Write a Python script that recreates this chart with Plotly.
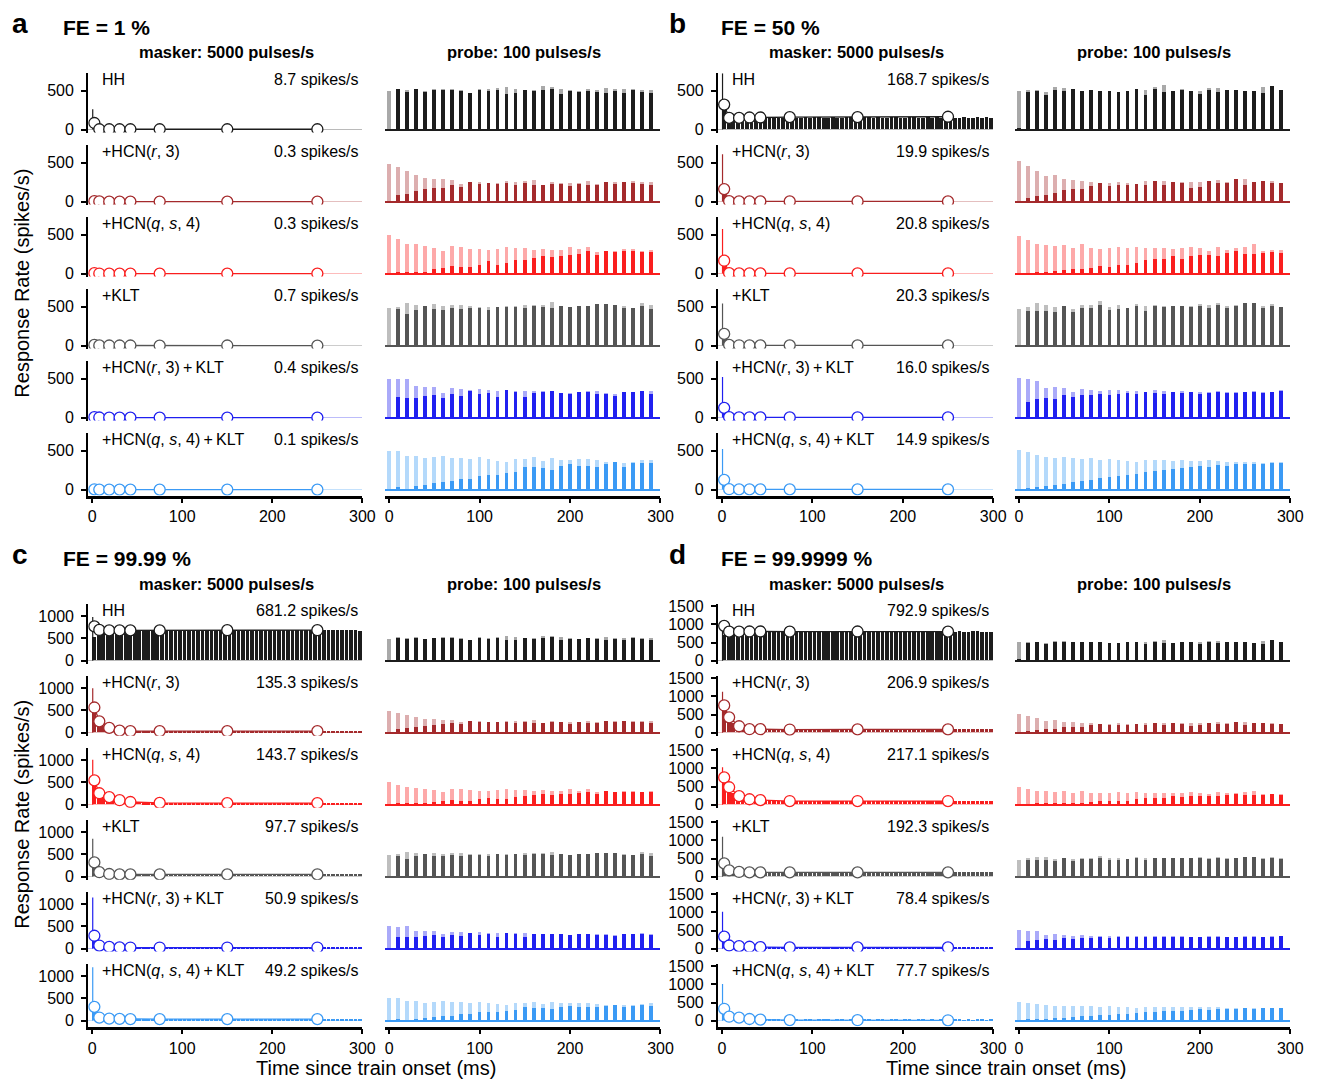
import plotly.graph_objects as go

# ---------------- data ----------------
model_labels = ["HH", "+HCN(<i>r</i>, 3)", "+HCN(<i>q</i>, <i>s</i>, 4)", "+KLT",
                "+HCN(<i>r</i>, 3)\u2009+\u2009KLT", "+HCN(<i>q</i>, <i>s</i>, 4)\u2009+\u2009KLT"]
model_colors = ["#1c1c1c", "#a42a2c", "#fa1e1e", "#555555", "#2020f0", "#3b9af5"]
fe_titles = {"a": "FE = 1 %", "b": "FE = 50 %", "c": "FE = 99.99 %", "d": "FE = 99.9999 %"}

masker_title = "masker: 5000 pulses/s"
probe_title = "probe: 100 pulses/s"
x_ticks = [0, 100, 200, 300]

circle_t = [2.5, 8, 19, 30.5, 42.5, 75, 150, 250]
probe_t = [0, 10, 20, 30, 40, 50, 60, 70, 80, 90, 100, 110, 120, 130, 140,
           150, 160, 170, 180, 190, 200, 210, 220, 230, 240, 250, 260, 270, 280, 290]
masker_bin_ms = 5
onset_t = 0.7

# mean rates (spikes/s)
rates_a = [8.7, 0.3, 0.3, 0.7, 0.4, 0.1]
rates_b = [168.7, 19.9, 20.8, 20.3, 16.0, 14.9]
rates_c = [681.2, 135.3, 143.7, 97.7, 50.9, 49.2]
rates_d = [792.9, 206.9, 217.1, 192.3, 78.4, 77.7]

# onset peak of masker PSTH
onset_a = [262, 0, 0, 0, 0, 0]
onset_b = [720, 605, 570, 540, 520, 520]
onset_c = [980, 1000, 1010, 850, 1150, 1200]
onset_d = [960, 1130, 1030, 1100, 1020, 1010]

# circles (windowed masker rate)
circ_a = [[85, 5, 5, 5, 5, 5, 5, 5], [5, 2, 0, 0, 0, 0, 0, 0], [5, 1, 0, 0, 0, 0, 0, 0],
          [8, 2, 1, 1, 1, 0, 1, 0], [5, 1, 0, 0, 0, 0, 0, 0], [3, 0, 0, 0, 0, 0, 0, 0]]
circ_b = [[320, 150, 150, 155, 155, 160, 160, 165], [160, 5, 3, 2, 2, 2, 2, 2],
          [165, 6, 3, 2, 2, 2, 2, 2], [150, 8, 4, 3, 3, 3, 3, 3],
          [125, 6, 3, 2, 2, 2, 2, 2], [125, 5, 3, 2, 2, 2, 2, 2]]
circ_c = [[770, 690, 680, 680, 680, 680, 685, 685], [566, 255, 107, 47, 35, 35, 35, 35],
          [546, 257, 170, 100, 60, 40, 35, 35], [320, 100, 60, 50, 50, 50, 50, 50],
          [290, 70, 40, 30, 25, 25, 25, 25], [310, 70, 45, 40, 35, 35, 35, 35]]
circ_d = [[960, 800, 800, 805, 805, 800, 805, 800], [750, 423, 177, 95, 95, 86, 90, 90],
          [750, 480, 235, 150, 125, 100, 100, 100], [365, 175, 130, 120, 120, 120, 120, 120],
          [333, 87, 68, 52, 41, 33, 33, 33], [327, 109, 82, 46, 27, 15, 12, 10]]

# masker PSTH, 5-ms bins from train onset
psth_a_hh = [80, 4, 2]
psth_a_hcnr = [4, 1]
psth_a_hcnq = [4, 1]
psth_a_klt = [7, 2, 1]
psth_a_hcnrk = [4, 1]
psth_a_hcnqk = [3]
psth_b_hh = [300, 160, 150, 155, 145, 150, 160, 150, 145, 155, 150, 160, 150, 145, 155,
             160, 150, 148, 155, 150, 160, 152, 145, 150, 158, 150, 147, 155, 160, 150,
             145, 152, 158, 150, 155, 148, 150, 160, 152, 145, 150, 155, 158, 150, 147,
             152, 150, 160, 150, 145, 155, 150, 148, 155, 150, 145, 152, 150, 155, 148]
psth_b_hcnr = [150, 5, 2]
psth_b_hcnq = [160, 6, 2]
psth_b_klt = [140, 10, 4]
psth_b_hcnrk = [120, 6, 2]
psth_b_hcnqk = [120, 5, 2]
psth_c_hh = [520, 705, 690, 680, 672, 688, 679, 684, 670, 690, 681, 676, 686, 679, 672,
             688, 683, 675, 690, 678, 684, 671, 687, 680, 676, 689, 682, 674, 685, 679,
             690, 673, 684, 680, 676, 688, 681, 672, 687, 679, 684, 675, 690, 680, 673,
             686, 682, 677, 689, 674, 683, 679, 686, 672, 688, 680, 675, 684, 678, 670]
psth_c_hcnr = [560, 290, 150, 100, 70, 55, 45, 42, 38, 36, 40, 35, 38, 34, 37,
               40, 36, 33, 38, 35, 39, 36, 34, 37, 40, 35, 33, 38, 36, 39,
               35, 37, 34, 38, 36, 40, 35, 33, 37, 39, 36, 34, 38, 35, 37,
               40, 34, 36, 38, 35, 33, 37, 39, 36, 34, 38, 35, 37, 36, 34]
psth_c_hcnq = [540, 300, 210, 150, 110, 85, 70, 60, 52, 48, 45, 42, 40, 38, 40,
               37, 36, 39, 35, 38, 36, 34, 37, 39, 35, 36, 38, 34, 37, 35,
               39, 36, 34, 38, 35, 37, 36, 39, 34, 36, 38, 35, 37, 34, 36,
               39, 35, 37, 36, 34, 38, 35, 37, 36, 39, 34, 36, 38, 35, 37]
psth_c_klt = [330, 110, 70, 60, 55, 52, 50, 54, 48, 52, 50, 47, 53, 50, 49,
              52, 48, 51, 54, 49, 50, 47, 52, 50, 53, 48, 51, 49, 52, 50,
              47, 53, 50, 48, 52, 49, 51, 54, 48, 50, 52, 49, 47, 53, 50,
              51, 48, 52, 49, 50, 53, 47, 51, 50, 49, 52, 48, 50, 51, 49]
psth_c_hcnrk = [290, 75, 45, 32, 28, 26, 25, 27, 24, 26, 25, 23, 27, 25, 24,
                26, 25, 27, 23, 25, 26, 24, 27, 25, 23, 26, 25, 24, 27, 25,
                26, 24, 23, 27, 25, 26, 24, 25, 27, 23, 26, 25, 24, 26, 27,
                25, 23, 26, 24, 25, 27, 26, 24, 25, 23, 26, 25, 27, 24, 25]
psth_c_hcnqk = [310, 75, 50, 42, 38, 36, 35, 37, 34, 36, 35, 33, 37, 35, 34,
                36, 35, 37, 33, 35, 36, 34, 37, 35, 33, 36, 35, 34, 37, 35,
                36, 34, 33, 37, 35, 36, 34, 35, 37, 33, 36, 35, 34, 36, 37,
                35, 33, 36, 34, 35, 37, 36, 34, 35, 33, 36, 35, 37, 34, 35]
psth_d_hh = [700, 830, 800, 795, 790, 805, 798, 788, 802, 795, 790, 806, 797, 786, 800,
             794, 808, 792, 787, 801, 796, 790, 804, 798, 785, 800, 793, 807, 791, 788,
             802, 797, 790, 805, 795, 786, 800, 794, 808, 790, 787, 801, 796, 791, 804,
             798, 785, 800, 793, 806, 790, 788, 802, 795, 790, 805, 797, 786, 783, 780]
psth_d_hcnr = [720, 430, 250, 160, 120, 100, 95, 90, 88, 92, 86, 90, 94, 87, 89,
               91, 85, 90, 93, 88, 86, 91, 89, 94, 87, 90, 85, 92, 88, 90,
               93, 86, 89, 91, 87, 90, 94, 88, 85, 92, 89, 90, 87, 93, 86,
               91, 88, 90, 94, 87, 89, 85, 92, 90, 88, 91, 86, 93, 89, 87]
psth_d_hcnq = [730, 480, 300, 220, 170, 140, 125, 115, 108, 104, 100, 103, 98, 101, 99,
               104, 97, 102, 100, 98, 103, 99, 101, 97, 104, 100, 98, 102, 99, 101,
               97, 103, 100, 98, 102, 99, 104, 97, 101, 100, 98, 103, 99, 101, 97,
               102, 100, 98, 104, 99, 101, 97, 103, 100, 98, 102, 99, 101, 100, 98]
psth_d_klt = [370, 180, 140, 128, 122, 120, 116, 124, 119, 121, 115, 125, 120, 117, 123,
              118, 122, 114, 126, 120, 117, 123, 119, 121, 116, 124, 120, 118, 122, 115,
              121, 126, 119, 117, 123, 120, 114, 122, 118, 125, 121, 116, 120, 124, 117,
              119, 123, 115, 121, 120, 126, 118, 117, 122, 119, 124, 116, 121, 120, 118]
psth_d_hcnrk = [330, 90, 70, 55, 45, 38, 35, 34, 33, 35, 32, 34, 33, 31, 35,
                33, 34, 32, 36, 33, 31, 34, 33, 35, 32, 34, 31, 33, 35, 34,
                32, 33, 36, 31, 34, 33, 35, 32, 34, 33, 31, 35, 33, 34, 32,
                36, 33, 31, 34, 33, 35, 32, 34, 33, 31, 35, 33, 34, 32, 33]
psth_d_hcnqk = [325, 110, 85, 50, 30, 20, 16, 14, 13, 12, 13, 11, 12, 10, 12,
                11, 13, 10, 12, 11, 10, 12, 11, 13, 10, 11, 12, 10, 11, 12,
                10, 11, 13, 10, 12, 11, 10, 12, 11, 10, 12, 11, 10, 11, 12,
                10, 11, 10, 12, 11, 10, 11, 12, 10, 11, 10, 12, 11, 10, 11]

# probe responses (spikes/s): light = reference, dark = after masker
probe_a_hh_light = [489, 523, 502, 523, 485, 511, 519, 523, 498, 468, 519, 511, 532, 544, 519, 506, 506, 553, 540, 519, 502, 485, 511, 498, 527, 511, 511, 519, 498, 506]
probe_a_hh_dark = [0, 511, 477, 511, 477, 498, 498, 498, 485, 468, 502, 485, 506, 447, 468, 498, 489, 498, 519, 447, 489, 477, 494, 477, 464, 489, 464, 498, 477, 468]
probe_a_hcnr_light = [477, 435, 392, 342, 300, 291, 287, 278, 224, 249, 249, 236, 232, 266, 253, 266, 274, 215, 249, 232, 236, 236, 266, 224, 253, 249, 241, 257, 245, 249]
probe_a_hcnr_dark = [0, 76, 89, 131, 152, 165, 177, 211, 181, 249, 228, 236, 228, 236, 207, 232, 215, 215, 224, 224, 194, 224, 207, 215, 249, 224, 249, 241, 228, 215]
probe_a_hcnq_light = [494, 439, 380, 376, 354, 325, 283, 346, 342, 316, 308, 295, 312, 338, 325, 325, 300, 316, 300, 304, 338, 308, 338, 274, 291, 283, 308, 308, 283, 304]
probe_a_hcnq_dark = [0, 21, 21, 21, 21, 51, 72, 89, 80, 80, 110, 152, 110, 127, 169, 177, 203, 224, 215, 224, 236, 253, 283, 241, 291, 270, 283, 283, 274, 278]
probe_a_klt_light = [481, 494, 544, 515, 502, 527, 506, 515, 519, 498, 494, 494, 494, 498, 502, 515, 515, 519, 557, 502, 489, 502, 506, 532, 527, 515, 498, 481, 548, 519]
probe_a_klt_dark = [0, 468, 401, 447, 498, 468, 451, 481, 460, 481, 477, 451, 494, 489, 494, 481, 498, 494, 481, 502, 489, 498, 502, 532, 527, 515, 481, 477, 498, 464]
probe_a_hcnrk_light = [494, 485, 494, 397, 388, 384, 316, 376, 367, 354, 367, 346, 338, 342, 342, 342, 333, 333, 333, 316, 308, 316, 333, 333, 312, 304, 325, 325, 338, 333]
probe_a_hcnrk_dark = [0, 257, 249, 249, 270, 291, 249, 300, 274, 342, 300, 316, 266, 346, 325, 266, 312, 325, 333, 312, 300, 321, 325, 304, 304, 278, 325, 325, 333, 304]
probe_a_hcnqk_light = [494, 494, 430, 430, 397, 418, 426, 405, 405, 388, 409, 384, 363, 354, 384, 388, 414, 363, 405, 380, 380, 388, 388, 371, 354, 354, 338, 354, 371, 380]
probe_a_hcnqk_dark = [0, 25, 0, 38, 55, 76, 89, 101, 139, 139, 177, 181, 190, 207, 224, 291, 283, 278, 245, 304, 321, 304, 300, 291, 329, 354, 291, 333, 342, 333]

probe_b_hh_light = [494, 506, 506, 473, 544, 527, 515, 494, 506, 494, 489, 481, 494, 515, 502, 544, 565, 485, 515, 494, 494, 527, 527, 498, 502, 494, 485, 544, 549, 506]
probe_b_hh_dark = [21, 473, 494, 443, 502, 494, 515, 494, 506, 494, 489, 481, 494, 515, 443, 515, 473, 485, 506, 494, 451, 502, 473, 498, 502, 494, 485, 460, 549, 506]
probe_b_hcnr_light = [511, 447, 384, 321, 342, 291, 278, 266, 249, 241, 241, 249, 236, 215, 257, 215, 266, 249, 249, 249, 249, 257, 274, 249, 249, 287, 215, 249, 262, 241]
probe_b_hcnr_dark = [0, 38, 63, 80, 105, 148, 152, 156, 198, 232, 203, 215, 207, 224, 207, 266, 215, 249, 241, 173, 190, 266, 232, 241, 283, 207, 249, 257, 232, 241]
probe_b_hcnq_light = [477, 430, 376, 359, 354, 359, 325, 376, 325, 312, 325, 338, 321, 342, 321, 321, 321, 316, 325, 338, 325, 291, 333, 300, 325, 338, 376, 283, 295, 295]
probe_b_hcnq_dark = [0, 0, 21, 21, 34, 38, 51, 51, 68, 97, 84, 101, 105, 139, 169, 181, 181, 219, 190, 219, 241, 241, 228, 266, 283, 253, 245, 257, 278, 257]
probe_b_klt_light = [460, 494, 544, 523, 489, 502, 468, 511, 519, 565, 494, 515, 473, 527, 498, 515, 502, 502, 498, 498, 527, 515, 540, 498, 519, 540, 544, 498, 527, 494]
probe_b_klt_dark = [0, 439, 443, 443, 422, 502, 422, 481, 477, 511, 456, 464, 473, 498, 443, 498, 494, 502, 502, 494, 498, 481, 511, 481, 498, 540, 544, 481, 498, 489]
probe_b_hcnrk_light = [500, 490, 470, 380, 390, 370, 330, 360, 350, 340, 350, 345, 335, 340, 330, 345, 335, 330, 340, 325, 320, 330, 335, 325, 320, 330, 335, 325, 330, 345]
probe_b_hcnrk_dark = [0, 200, 230, 250, 240, 280, 260, 290, 280, 300, 290, 300, 310, 300, 320, 310, 300, 320, 310, 320, 300, 310, 320, 315, 310, 320, 325, 315, 320, 340]
probe_b_hcnqk_light = [500, 480, 440, 420, 400, 410, 400, 390, 400, 380, 385, 370, 360, 350, 370, 380, 375, 360, 370, 365, 360, 370, 365, 355, 350, 345, 350, 340, 345, 350]
probe_b_hcnqk_dark = [0, 20, 30, 40, 60, 70, 90, 110, 120, 140, 160, 170, 180, 200, 220, 240, 250, 260, 270, 290, 300, 290, 310, 300, 320, 330, 320, 330, 335, 340]

# ---------------- assemble ----------------
panels = {
    "a": dict(rates=rates_a, onset=onset_a, circ=circ_a,
              psth=[psth_a_hh, psth_a_hcnr, psth_a_hcnq, psth_a_klt, psth_a_hcnrk, psth_a_hcnqk],
              light=[probe_a_hh_light, probe_a_hcnr_light, probe_a_hcnq_light, probe_a_klt_light, probe_a_hcnrk_light, probe_a_hcnqk_light],
              dark=[probe_a_hh_dark, probe_a_hcnr_dark, probe_a_hcnq_dark, probe_a_klt_dark, probe_a_hcnrk_dark, probe_a_hcnqk_dark]),
    "b": dict(rates=rates_b, onset=onset_b, circ=circ_b,
              psth=[psth_b_hh, psth_b_hcnr, psth_b_hcnq, psth_b_klt, psth_b_hcnrk, psth_b_hcnqk],
              light=[probe_b_hh_light, probe_b_hcnr_light, probe_b_hcnq_light, probe_b_klt_light, probe_b_hcnrk_light, probe_b_hcnqk_light],
              dark=[probe_b_hh_dark, probe_b_hcnr_dark, probe_b_hcnq_dark, probe_b_klt_dark, probe_b_hcnrk_dark, probe_b_hcnqk_dark]),
    "c": dict(rates=rates_c, onset=onset_c, circ=circ_c,
              psth=[psth_c_hh, psth_c_hcnr, psth_c_hcnq, psth_c_klt, psth_c_hcnrk, psth_c_hcnqk],
              light=[probe_a_hh_light, probe_a_hcnr_light, probe_a_hcnq_light, probe_a_klt_light, probe_a_hcnrk_light, probe_a_hcnqk_light],
              dark=[probe_a_hh_dark, probe_a_hcnr_dark, probe_a_hcnq_dark, probe_a_klt_dark, probe_a_hcnrk_dark, probe_a_hcnqk_dark]),
    "d": dict(rates=rates_d, onset=onset_d, circ=circ_d,
              psth=[psth_d_hh, psth_d_hcnr, psth_d_hcnq, psth_d_klt, psth_d_hcnrk, psth_d_hcnqk],
              light=[probe_b_hh_light, probe_b_hcnr_light, probe_b_hcnq_light, probe_b_klt_light, probe_b_hcnrk_light, probe_b_hcnqk_light],
              dark=[probe_b_hh_dark, probe_b_hcnr_dark, probe_b_hcnq_dark, probe_b_klt_dark, probe_b_hcnrk_dark, probe_b_hcnqk_dark]),
}

# geometry (pixels)
W, H = 1331, 1085
geom = {
    "a": dict(mx=(89, 366), px=(389, 667), zero0=125, scale=0.079, yticks=[0, 500]),
    "b": dict(mx=(725, 1003), px=(1025, 1303), zero0=125, scale=0.079, yticks=[0, 500]),
    "c": dict(mx=(89, 366), px=(389, 667), zero0=662, scale=0.045, yticks=[0, 500, 1000]),
    "d": dict(mx=(725, 1003), px=(1025, 1303), zero0=662, scale=0.03667, yticks=[0, 500, 1000, 1500]),
}
ROW_STEP = 72.8
TOP_PX = 57
XRANGE = [-4.4, 300]
FONT = "Liberation Sans, Arial, Helvetica, sans-serif"


def fx(p):
    return p / W


def fy(p):
    return 1 - p / H


def rgba(hexc, a):
    h = hexc.lstrip("#")
    return "rgba(%d,%d,%d,%.2f)" % (int(h[0:2], 16), int(h[2:4], 16), int(h[4:6], 16), a)


fig = go.Figure()
layout = dict(width=W, height=H, margin=dict(l=0, r=0, t=0, b=0), autosize=False,
              paper_bgcolor="white", plot_bgcolor="white", showlegend=False,
              barmode="overlay", bargap=0, font=dict(family=FONT, color="black", size=16))
annotations = []
k = 0
for g in ["a", "b", "c", "d"]:
    G = geom[g]
    P = panels[g]
    for r in range(6):
        col = model_colors[r]
        zero = G["zero0"] + r * ROW_STEP
        below = 6 if r == 5 else 3
        ymin = -below / G["scale"]
        ymax = TOP_PX / G["scale"]
        ydom = [fy(zero + below), fy(zero - TOP_PX)]
        bottom = (r == 5)
        for side in ["masker", "probe"]:
            k += 1
            xa = "x%d" % k
            ya = "y%d" % k
            xr = G["mx"] if side == "masker" else G["px"]
            xax = dict(domain=[fx(xr[0]), fx(xr[1])], range=XRANGE, anchor=ya,
                       showgrid=False, zeroline=False, fixedrange=True)
            if bottom:
                xax.update(showline=True, linecolor="black", linewidth=2.5, ticks="outside",
                           tickvals=x_ticks, ticklen=5, tickwidth=2, tickcolor="black",
                           tickfont=dict(size=16, family=FONT))
            else:
                xax.update(showline=False, showticklabels=False, ticks="")
            yax = dict(domain=ydom, range=[ymin, ymax], anchor=xa, showgrid=False, fixedrange=True,
                       zeroline=True)
            if side == "masker":
                yax.update(showline=True, linecolor="black", linewidth=2, ticks="outside",
                           tickvals=G["yticks"], ticklen=5, tickwidth=2, tickcolor="black",
                           tickfont=dict(size=16, family=FONT), ticklabelstandoff=4,
                           zerolinecolor=rgba(col, 0.3), zerolinewidth=1)
            else:
                yax.update(showline=False, showticklabels=False, ticks="",
                           zerolinecolor=col, zerolinewidth=1.5)
            layout["xaxis%d" % k] = xax
            layout["yaxis%d" % k] = yax

            if side == "masker":
                ps = P["psth"][r]
                centers = [masker_bin_ms * i + masker_bin_ms / 2 for i in range(len(ps))]
                fig.add_trace(go.Bar(x=centers, y=ps, width=0.8 * masker_bin_ms,
                                     marker=dict(color=col, line=dict(width=0)),
                                     xaxis=xa, yaxis=ya, hoverinfo="skip"))
                ov = P["onset"][r]
                fig.add_trace(go.Scatter(x=[onset_t, onset_t], y=[0, ov], mode="lines",
                                         line=dict(color=col, width=1.2),
                                         xaxis=xa, yaxis=ya, hoverinfo="skip"))
                fig.add_trace(go.Scatter(x=circle_t, y=P["circ"][r], mode="lines+markers",
                                         line=dict(color=col, width=1.3),
                                         marker=dict(size=11, color="white",
                                                     line=dict(color=col, width=1.3)),
                                         xaxis=xa, yaxis=ya, hoverinfo="skip"))
                annotations.append(dict(text=model_labels[r], x=fx(xr[0] + 12), y=fy(zero - 51),
                                        xref="paper", yref="paper", xanchor="left", yanchor="middle",
                                        showarrow=False, font=dict(size=16, family=FONT)))
                annotations.append(dict(text="%.1f spikes/s" % P["rates"][r], x=fx(xr[1] - 2),
                                        y=fy(zero - 51), xref="paper", yref="paper",
                                        xanchor="right", yanchor="middle", showarrow=False,
                                        font=dict(size=16, family=FONT)))
            else:
                fig.add_trace(go.Bar(x=probe_t, y=P["light"][r], width=4.2,
                                     marker=dict(color=rgba(col, 0.38), line=dict(width=0)),
                                     xaxis=xa, yaxis=ya, hoverinfo="skip"))
                fig.add_trace(go.Bar(x=probe_t, y=P["dark"][r], width=4.2,
                                     marker=dict(color=col, line=dict(width=0)),
                                     xaxis=xa, yaxis=ya, hoverinfo="skip"))

    top = 20 if g in ("a", "b") else 557
    lx = 20 if g in ("a", "c") else 684
    annotations.append(dict(text="<b>%s</b>" % g, x=fx(lx), y=fy(top - 2), xref="paper", yref="paper",
                            xanchor="center", yanchor="middle", showarrow=False,
                            font=dict(size=28, family=FONT)))
    annotations.append(dict(text="<b>%s</b>" % fe_titles[g], x=fx(lx + 42), y=fy(top + 2),
                            xref="paper", yref="paper", xanchor="left", yanchor="middle",
                            showarrow=False, font=dict(size=21, family=FONT)))
    ct = top + 27
    annotations.append(dict(text="<b>%s</b>" % masker_title, x=fx((G["mx"][0] + G["mx"][1]) / 2 + 1),
                            y=fy(ct), xref="paper", yref="paper", xanchor="center", yanchor="middle",
                            showarrow=False, font=dict(size=16.5, family=FONT)))
    annotations.append(dict(text="<b>%s</b>" % probe_title, x=fx((G["px"][0] + G["px"][1]) / 2 + 1),
                            y=fy(ct), xref="paper", yref="paper", xanchor="center", yanchor="middle",
                            showarrow=False, font=dict(size=16.5, family=FONT)))

for yc in (280, 817):
    annotations.append(dict(text="Response Rate (spikes/s)", x=fx(22), y=fy(yc), xref="paper",
                            yref="paper", xanchor="center", yanchor="middle", textangle=-90,
                            showarrow=False, font=dict(size=20, family=FONT)))
for xc in (380, 1016):
    annotations.append(dict(text="Time since train onset (ms)", x=fx(xc), y=fy(1074), xref="paper",
                            yref="paper", xanchor="center", yanchor="middle",
                            showarrow=False, font=dict(size=20, family=FONT)))

layout["annotations"] = annotations
fig.update_layout(**layout)
fig.write_html("out.html")
